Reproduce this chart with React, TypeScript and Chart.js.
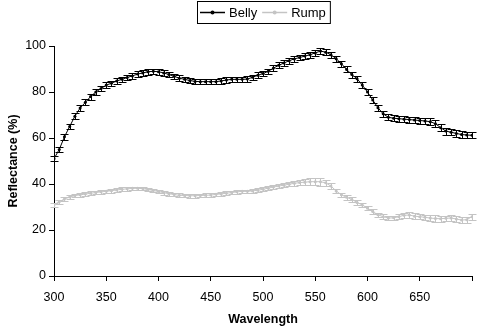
import React, { useEffect, useRef } from "react";
import { Chart, registerables } from "chart.js";

Chart.register(...registerables);

const wavelengths: number[] = [];
for (let w = 300; w <= 700; w += 5) wavelengths.push(w);

const belly = [
  51, 55, 60.5, 65, 69.5, 73, 75.5, 78, 80, 81.5,
  83, 83.8, 84.8, 85.5, 86.3, 87, 87.8, 88.3, 88.8, 89,
  88.8, 88.3, 87.6, 86.8, 86, 85.5, 85, 84.6, 84.5, 84.5,
  84.5, 84.5, 84.8, 85.2, 85.5, 85.5, 85.5, 85.6, 86.4, 87.3,
  88, 89, 90.4, 91.6, 92.6, 93.6, 94.4, 95, 95.6, 96.2,
  97, 97.8, 97.3, 96.2, 94.5, 92.3, 89.8, 87.6, 85.8, 83,
  80, 76.5, 73.2, 70.5, 69, 68.6, 68.4, 68.2, 68, 67.8,
  67.6, 67.4, 67.1, 66.2, 64.5, 63, 62.5, 62, 61.5, 61.3,
  61.2,
];

const bellyErr = [
  1.2, 1.3, 1.3, 1.3, 1.3, 1.3, 1.3, 1.3, 1.2, 1.2,
  1.2, 1.2, 1.2, 1.2, 1.2, 1.2, 1.2, 1.2, 1.2, 1.2,
  1.2, 1.2, 1.2, 1.2, 1.2, 1.2, 1.2, 1.2, 1.2, 1.2,
  1.2, 1.2, 1.2, 1.2, 1.2, 1.2, 1.2, 1.2, 1.2, 1.2,
  1.2, 1.2, 1.3, 1.3, 1.3, 1.3, 1.3, 1.3, 1.3, 1.3,
  1.3, 1.3, 1.3, 1.3, 1.3, 1.3, 1.3, 1.3, 1.3, 1.3,
  1.3, 1.3, 1.3, 1.3, 1.3, 1.3, 1.3, 1.3, 1.3, 1.3,
  1.3, 1.3, 1.5, 1.5, 1.5, 1.5, 1.4, 1.4, 1.4, 1.4,
  1.4,
];

const rump = [
  31, 32.3, 33.5, 34.3, 35, 35.3, 35.6, 36, 36.3, 36.6,
  36.8, 37.1, 37.4, 37.7, 37.9, 38.1, 38.1, 38, 37.6, 37.2,
  36.7, 36.2, 35.8, 35.4, 35.1, 35, 34.9, 34.9, 35, 35.1,
  35.2, 35.5, 35.7, 36, 36.3, 36.6, 36.8, 36.8, 37, 37.3,
  37.7, 38.2, 38.7, 39.1, 39.5, 39.9, 40.3, 40.6, 40.8, 41,
  41, 41, 40.5, 39.1, 37, 35.3, 34.2, 33.3, 32, 30.9,
  29.5, 28, 26.6, 25.8, 25.2, 25.3, 25.8, 26.4, 26.5, 26,
  25.8, 25.5, 25.2, 25, 24.9, 25.1, 25.2, 24.8, 24.3, 24.5,
  25.8,
];

const rumpErr = [
  0.9, 0.8, 0.8, 0.8, 0.8, 0.8, 0.8, 0.8, 0.8, 0.8,
  0.8, 0.8, 0.8, 0.8, 0.8, 0.8, 0.8, 0.8, 0.8, 0.8,
  0.8, 0.8, 0.8, 0.8, 0.8, 0.8, 0.8, 0.8, 0.8, 0.8,
  0.8, 0.8, 0.8, 0.8, 0.8, 0.8, 0.8, 0.8, 0.8, 0.8,
  0.8, 0.8, 0.9, 0.9, 0.9, 0.9, 1.0, 1.0, 1.2, 1.4,
  1.6, 1.8, 1.4, 1.2, 1.0, 1.0, 1.0, 1.0, 1.0, 1.0,
  1.0, 1.0, 1.0, 1.0, 1.0, 1.0, 1.2, 1.2, 1.2, 1.2,
  1.2, 1.2, 1.4, 1.4, 1.4, 1.2, 1.2, 1.3, 1.3, 1.3,
  1.3,
];

const xTicks = [300, 350, 400, 450, 500, 550, 600, 650, 700];
const yTicks = [0, 20, 40, 60, 80, 100];

const BELLY_COLOR = "#000000";
const RUMP_COLOR = "#c4c4c4";
const FONT = "Liberation Sans, Arial, sans-serif";

const errorBarPlugin = {
  id: "errorBars",
  afterDatasetsDraw(chart: any) {
    const ctx = chart.ctx;
    const xs = chart.scales.x;
    const ys = chart.scales.y;
    chart.data.datasets.forEach((ds: any) => {
      const errs: number[] = ds.errors;
      ctx.save();
      ctx.strokeStyle = ds.borderColor;
      ctx.lineWidth = 1;
      ds.data.forEach((pt: any, i: number) => {
        const x = Math.round(xs.getPixelForValue(pt.x)) + 0.5;
        const yTop = Math.round(ys.getPixelForValue(pt.y + errs[i])) + 0.5;
        const yBot = Math.round(ys.getPixelForValue(pt.y - errs[i])) + 0.5;
        ctx.beginPath();
        ctx.moveTo(x, yTop);
        ctx.lineTo(x, yBot);
        ctx.moveTo(x - 4, yTop);
        ctx.lineTo(x + 4, yTop);
        ctx.moveTo(x - 4, yBot);
        ctx.lineTo(x + 4, yBot);
        ctx.stroke();
      });
      ctx.restore();
    });
  },
};

const legendPlugin = {
  id: "boxLegend",
  afterDraw(chart: any) {
    const ctx = chart.ctx;
    const area = chart.chartArea;
    ctx.save();
    ctx.font = `13px ${FONT}`;
    const items = chart.data.datasets.map((ds: any) => ({
      label: ds.label,
      color: ds.borderColor,
      w: ctx.measureText(ds.label).width,
    }));
    const lineLen = 25;
    const padL = 3;
    const padR = 4;
    const gapLT = 4;
    const gapItem = 5;
    let total = padL + padR;
    items.forEach((it: any, i: number) => {
      total += lineLen + gapLT + it.w + (i < items.length - 1 ? gapItem : 0);
    });
    const cx = (area.left + area.right) / 2;
    const left = Math.round(cx - total / 2);
    const top = 1;
    const h = 22;
    const cy = top + h / 2;
    ctx.strokeStyle = "#000";
    ctx.lineWidth = 1;
    ctx.strokeRect(left + 0.5, top + 0.5, total, h);
    let x = left + padL;
    items.forEach((it: any) => {
      ctx.strokeStyle = it.color;
      ctx.lineWidth = 1.5;
      ctx.beginPath();
      ctx.moveTo(x, cy + 0.5);
      ctx.lineTo(x + lineLen, cy + 0.5);
      ctx.stroke();
      ctx.fillStyle = it.color;
      ctx.beginPath();
      ctx.arc(x + lineLen / 2, cy + 0.5, 2, 0, Math.PI * 2);
      ctx.fill();
      x += lineLen + gapLT;
      ctx.fillStyle = "#000";
      ctx.textBaseline = "middle";
      ctx.textAlign = "left";
      ctx.fillText(it.label, x, cy + 1);
      x += it.w + gapItem;
    });
    ctx.restore();
  },
};

export default function App() {
  const canvasRef = useRef<HTMLCanvasElement | null>(null);

  useEffect(() => {
    document.body.style.margin = "0";
    const canvas = canvasRef.current;
    if (!canvas) return;
    const chart = new Chart(canvas, {
      type: "line",
      data: {
        datasets: [
          {
            label: "Belly",
            data: wavelengths.map((w, i) => ({ x: w, y: belly[i] })),
            errors: bellyErr,
            borderColor: BELLY_COLOR,
            backgroundColor: BELLY_COLOR,
            borderWidth: 1,
            pointRadius: 1.5,
            pointBorderWidth: 0,
            tension: 0,
          } as any,
          {
            label: "Rump",
            data: wavelengths.map((w, i) => ({ x: w, y: rump[i] })),
            errors: rumpErr,
            borderColor: RUMP_COLOR,
            backgroundColor: RUMP_COLOR,
            borderWidth: 1,
            pointRadius: 1.5,
            pointBorderWidth: 0,
            tension: 0,
          } as any,
        ],
      },
      options: {
        responsive: false,
        animation: false,
        devicePixelRatio: 1,
        layout: { padding: { top: 46, right: 3, left: 0, bottom: 0 } },
        plugins: {
          legend: { display: false },
          tooltip: { enabled: false },
        },
        scales: {
          x: {
            type: "linear",
            min: 300,
            max: 700,
            afterBuildTicks: (s: any) => {
              s.ticks = xTicks.map((v) => ({ value: v }));
            },
            afterFit: (s: any) => {
              s.height = 51;
            },
            ticks: {
              color: "#000",
              font: { family: FONT, size: 12.5 },
              padding: 9,
              maxRotation: 0,
              autoSkip: false,
              callback: (v: any) => (v === 700 ? "" : String(v)),
            },
            grid: {
              drawOnChartArea: false,
              drawTicks: true,
              tickLength: 5,
              color: "#000",
            },
            border: { color: "#000", width: 1 },
            title: {
              display: true,
              text: "Wavelength",
              color: "#000",
              font: { family: FONT, size: 12.5, weight: "bold" },
              padding: { top: 0, bottom: 0 },
            },
          },
          y: {
            type: "linear",
            min: 0,
            max: 100,
            afterBuildTicks: (s: any) => {
              s.ticks = yTicks.map((v) => ({ value: v }));
            },
            afterFit: (s: any) => {
              s.width = 54;
            },
            ticks: {
              color: "#000",
              font: { family: FONT, size: 12.5 },
              padding: 3,
            },
            grid: {
              drawOnChartArea: false,
              drawTicks: true,
              tickLength: 5,
              color: "#000",
            },
            border: { color: "#000", width: 1 },
            title: {
              display: true,
              text: "Reflectance (%)",
              color: "#000",
              font: { family: FONT, size: 12.5, weight: "bold" },
              padding: { top: 6, bottom: 0 },
            },
          },
        },
      } as any,
      plugins: [errorBarPlugin, legendPlugin],
    });
    return () => chart.destroy();
  }, []);

  return (
    <div style={{ position: "fixed", left: 0, top: 0, width: 481, height: 327 }}>
      <canvas ref={canvasRef} width={481} height={327} />
    </div>
  );
}
